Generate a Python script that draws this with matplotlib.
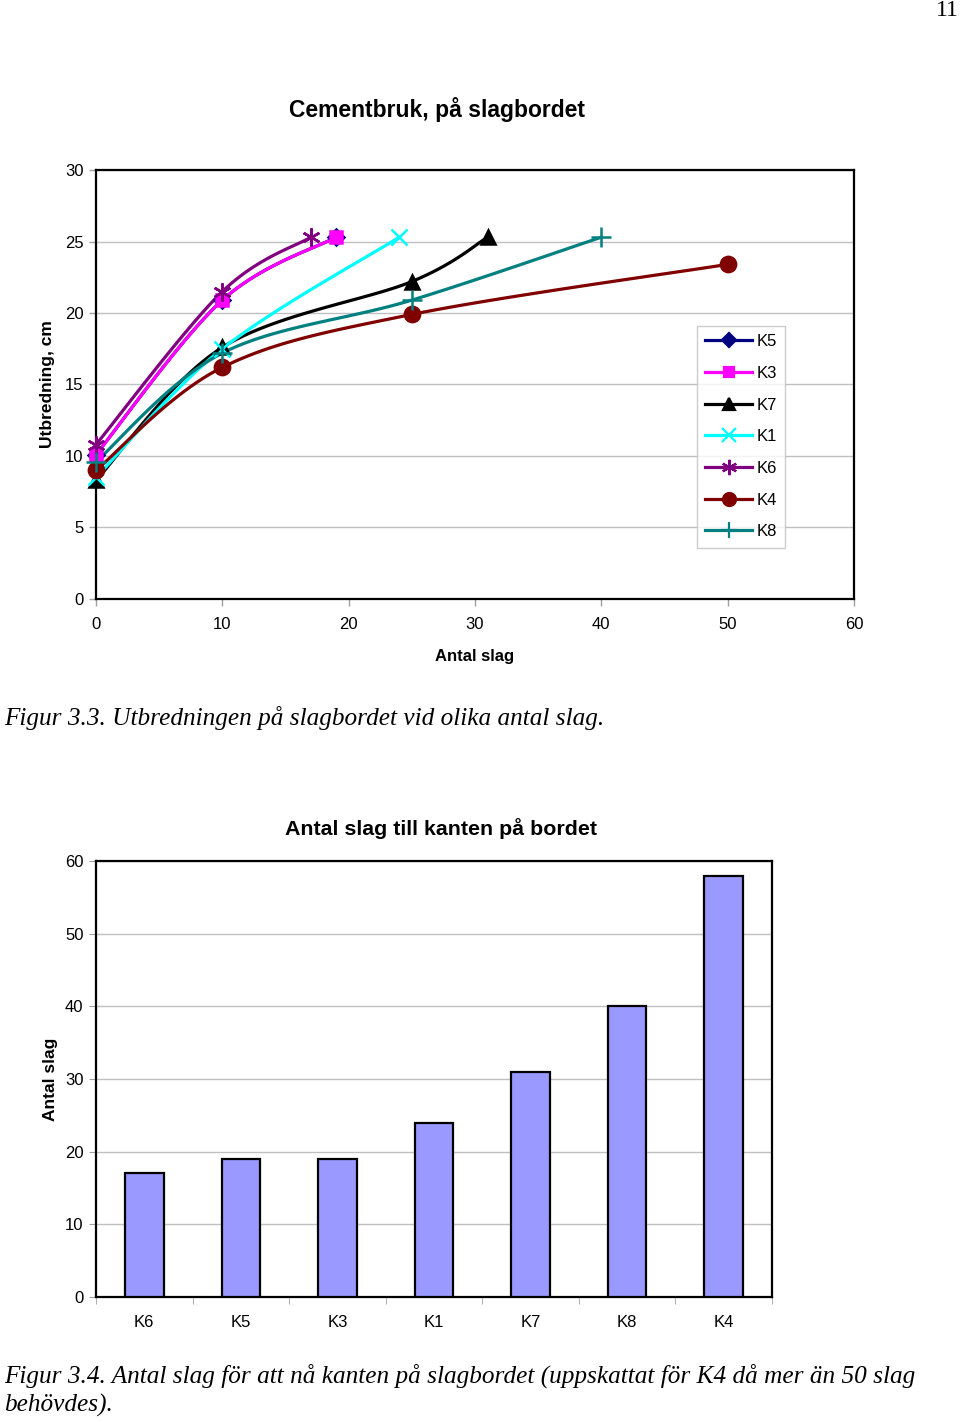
import matplotlib
matplotlib.use("Agg")
import matplotlib.pyplot as plt
import numpy as np

plt.rcParams['font.family'] = ['Liberation Sans', 'DejaVu Sans']

# Figur 3.3 - utbredning vs antal slag
series_names = ["K5", "K3", "K7", "K1", "K6", "K4", "K8"]
k5_x = [0, 10, 19]
k5_y = [10.1, 20.9, 25.3]
k3_x = [0, 10, 19]
k3_y = [10.1, 20.9, 25.3]
k7_x = [0, 10, 25, 31]
k7_y = [8.3, 17.6, 22.2, 25.3]
k1_x = [0, 10, 24]
k1_y = [8.5, 17.5, 25.3]
k6_x = [0, 10, 17]
k6_y = [10.8, 21.5, 25.3]
k4_x = [0, 10, 25, 50]
k4_y = [9.0, 16.2, 19.9, 23.4]
k8_x = [0, 10, 25, 40]
k8_y = [9.6, 17.2, 20.9, 25.3]

# Figur 3.4 - antal slag till kanten
bar_labels = ["K6", "K5", "K3", "K1", "K7", "K8", "K4"]
bar_values = [17, 19, 19, 24, 31, 40, 58]

colors = ["#000080", "#ff00ff", "#000000", "#00ffff", "#800080", "#800000", "#008080"]
markers = ["D", "s", "^", "x", (6, 2, 0), "o", "+"]
msizes = [8, 8, 10, 12, 13, 11, 14]


def smooth(x, y, n=25):
    # excel-ish smoothed line (bezier through points)
    p = np.column_stack([x, y]).astype(float)
    out = [p[0]]
    t = np.linspace(0, 1, n)[1:]
    for i in range(len(p) - 1):
        p0 = p[max(i - 1, 0)]
        p1 = p[i]
        p2 = p[i + 1]
        p3 = p[min(i + 2, len(p) - 1)]
        c1 = p1 + (p2 - p0) / 6
        c2 = p2 - (p3 - p1) / 6
        seg = ((1 - t) ** 3)[:, None] * p1 + (3 * (1 - t) ** 2 * t)[:, None] * c1 \
            + (3 * (1 - t) * t ** 2)[:, None] * c2 + (t ** 3)[:, None] * p2
        out.extend(seg)
    out = np.array(out)
    return out[:, 0], out[:, 1]


fig = plt.figure(figsize=(9.6, 14.22), dpi=100)

grid_col = "#c0c0c0"

ax1 = fig.add_axes([0.1, 1 - 599 / 1422, (854 - 96) / 960, (599 - 170) / 1422])
xs = [k5_x, k3_x, k7_x, k1_x, k6_x, k4_x, k8_x]
ys = [k5_y, k3_y, k7_y, k1_y, k6_y, k4_y, k8_y]
handles = []
for name, x, y, c, m, ms in zip(series_names, xs, ys, colors, markers, msizes):
    sx, sy = smooth(x, y)
    ax1.plot(sx, sy, color=c, lw=2.3, zorder=3, clip_on=False)
    ax1.plot(x, y, ls="none", marker=m, color=c, ms=ms, mew=1.8, zorder=4, clip_on=False)
    h, = ax1.plot([], [], color=c, lw=2.3, marker=m, ms=ms * 0.85, mew=1.6, label=name)
    handles.append(h)

ax1.set_xlim(0, 60)
ax1.set_ylim(0, 30)
ax1.set_xticks(range(0, 61, 10))
ax1.set_yticks(range(0, 31, 5))
ax1.yaxis.grid(True, color=grid_col, lw=1)
ax1.set_axisbelow(True)
ax1.tick_params(axis="both", labelsize=12, color="#a0a0a0", length=5, width=1)
ax1.tick_params(axis="x", pad=8)
ax1.tick_params(axis="y", pad=4)
for s in ax1.spines.values():
    s.set_linewidth(1.6)
ax1.set_title("Cementbruk, på slagbordet", fontsize=16.5, fontweight="bold", pad=38, x=0.45)
ax1.set_xlabel("Antal slag", fontsize=12, fontweight="bold", labelpad=12)
ax1.set_ylabel("Utbredning, cm", fontsize=12.5, fontweight="bold", labelpad=7)

leg = ax1.legend(handles=handles, loc="upper left",
                 bbox_to_anchor=(697 / 960, 1 - 326 / 1422), bbox_transform=fig.transFigure,
                 fontsize=12, frameon=True, fancybox=False, borderpad=0.5,
                 handlelength=2.8, handletextpad=0.25, labelspacing=1.0, borderaxespad=0)
leg.get_frame().set_edgecolor("#c0c0c0")
leg.get_frame().set_linewidth(1)

# bar chart
ax2 = fig.add_axes([0.1, 1 - 1297 / 1422, (772 - 96) / 960, (1297 - 861) / 1422])
pos = np.arange(len(bar_labels))
ax2.bar(pos, bar_values, width=0.4, color="#9999ff", edgecolor="black", lw=1.6, zorder=3)
ax2.set_xlim(-0.5, len(bar_labels) - 0.5)
ax2.set_ylim(0, 60)
ax2.set_yticks(range(0, 61, 10))
ax2.set_xticks(pos)
ax2.set_xticklabels(bar_labels)
ax2.set_xticks(np.arange(-0.5, len(bar_labels), 1), minor=True)
ax2.tick_params(axis="x", which="major", length=0, pad=13, labelsize=12)
ax2.tick_params(axis="x", which="minor", length=5, color="#a0a0a0")
ax2.tick_params(axis="y", labelsize=12, color="#a0a0a0", length=5, pad=4)
ax2.yaxis.grid(True, color=grid_col, lw=1)
ax2.set_axisbelow(True)
for s in ax2.spines.values():
    s.set_linewidth(1.6)
ax2.set_title("Antal slag till kanten på bordet", fontsize=15.4, fontweight="bold", pad=19, x=0.51)
ax2.set_ylabel("Antal slag", fontsize=12.5, fontweight="bold", labelpad=5)

# page text
serif = ['Liberation Serif', 'DejaVu Serif']
fig.text(947 / 960, 1 - 10 / 1422, "11", family=serif, fontsize=17, ha="center", va="center")
fig.text(4 / 960, 1 - 718 / 1422, "Figur 3.3. Utbredningen på slagbordet vid olika antal slag.",
         family=serif, style="italic", fontsize=18.2, ha="left", va="center")
fig.text(4 / 960, 1 - 1376 / 1422,
         "Figur 3.4. Antal slag för att nå kanten på slagbordet (uppskattat för K4 då mer än 50 slag",
         family=serif, style="italic", fontsize=18.2, ha="left", va="center")
fig.text(4 / 960, 1 - 1405 / 1422, "behövdes).",
         family=serif, style="italic", fontsize=18.2, ha="left", va="center")

fig.savefig("out.png", dpi=100)
